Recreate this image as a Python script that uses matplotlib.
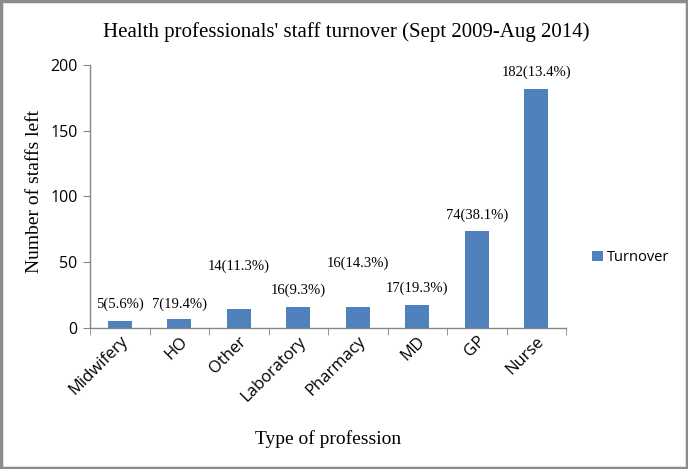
import matplotlib

matplotlib.use("Agg")
import matplotlib.pyplot as plt
from matplotlib.patches import Rectangle
from matplotlib.ticker import FixedLocator

professions = ["Midwifery", "HO", "Other", "Laboratory", "Pharmacy", "MD", "GP", "Nurse"]
staff_left = [5, 7, 14, 16, 16, 17, 74, 182]
turnover_pct = [5.6, 19.4, 11.3, 9.3, 14.3, 19.3, 38.1, 13.4]

# label offsets above bar tops (points), as placed in the original
label_offsets = [12, 10.5, 31, 11.5, 31.5, 12, 11, 12]

BAR = "#4F81BD"
AXIS = "#868686"
SERIF = "Liberation Serif"
SANS = "Open Sans"

fig = plt.figure(figsize=(6.88, 4.69), dpi=100)
ax = fig.add_axes([90 / 688, 1 - 327.7 / 469, 476 / 688, 262.7 / 469])

x = list(range(len(professions)))
ax.bar(x, staff_left, width=0.4, color=BAR, label="Turnover", zorder=2)

for xi, v, p, off in zip(x, staff_left, turnover_pct, label_offsets):
    ax.annotate(
        f"{v}({p}%)",
        (xi, v),
        xytext=(0, off),
        textcoords="offset points",
        ha="center",
        va="center",
        fontsize=10.5,
        family=SERIF,
    )

ax.set_xlim(-0.5, len(professions) - 0.5)
ax.set_ylim(0, 200)
ax.set_yticks([0, 50, 100, 150, 200])
ax.set_xticks(x)
ax.set_xticklabels(professions, rotation=45, ha="right", rotation_mode="anchor", family=SANS, fontsize=12)
ax.xaxis.set_minor_locator(FixedLocator([i - 0.5 for i in range(len(professions) + 1)]))
ax.tick_params(axis="x", which="major", length=0, pad=4)
ax.tick_params(axis="x", which="minor", length=5, color=AXIS)
ax.tick_params(axis="y", length=5, color=AXIS, labelsize=11.5, pad=4)
for lab in ax.get_yticklabels():
    lab.set_family(SANS)

for s in ["top", "right"]:
    ax.spines[s].set_visible(False)
for s in ["left", "bottom"]:
    ax.spines[s].set_color(AXIS)
    ax.spines[s].set_linewidth(1.0)

ax.set_ylabel("Number of staffs left", family=SERIF, fontsize=14)
ax.yaxis.set_label_coords(-0.098, 0.52)
ax.set_xlabel("Type of profession", family=SERIF, fontsize=14)
ax.xaxis.set_label_coords(0.5, -0.39)

fig.text(0.503, 1 - 32 / 469, "Health professionals' staff turnover (Sept 2009-Aug 2014)",
         ha="center", va="center", family=SERIF, fontsize=15)

ax.legend(
    loc="center left",
    bbox_to_anchor=(1.028, 0.267),
    frameon=False,
    prop={"family": SANS, "size": 10.5},
    handlelength=0.7,
    handleheight=0.7,
    handletextpad=0.3,
)

fig.patches.append(
    Rectangle((0.002, 0.003), 0.996, 0.994, transform=fig.transFigure,
              fill=False, edgecolor="#8c8c8c", linewidth=2.5)
)

fig.savefig("out.png", dpi=100)
